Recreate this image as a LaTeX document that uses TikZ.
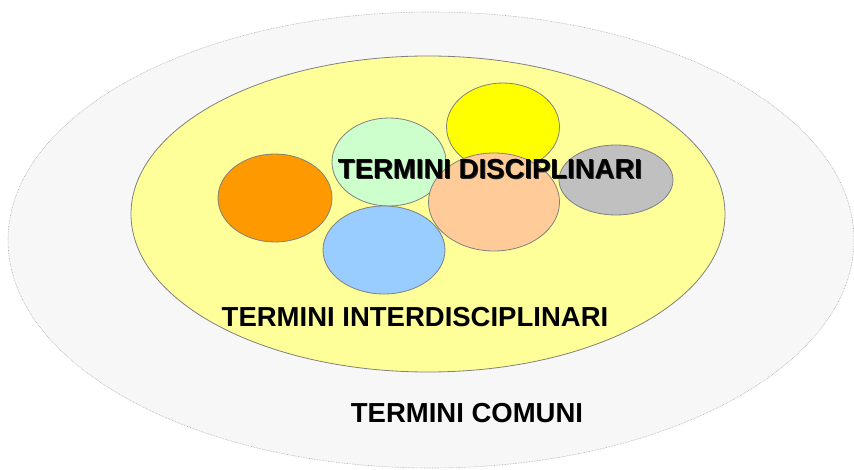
\documentclass[tikz,border=0pt]{standalone}
\usepackage{fontspec}
\setmainfont{Liberation Sans}
\usetikzlibrary{shapes.geometric}
\definecolor{outerfill}{HTML}{F7F7F7}
\definecolor{innerfill}{HTML}{FFFF99}
\definecolor{orangefill}{HTML}{FF9900}
\definecolor{greenfill}{HTML}{CCFFCC}
\definecolor{yellowfill}{HTML}{FFFF00}
\definecolor{greyfill}{HTML}{C0C0C0}
\definecolor{peachfill}{HTML}{FFCC99}
\definecolor{bluefill}{HTML}{99CCFF}
\begin{document}
\begin{tikzpicture}
	  [
	    x                       = 1pt,
	    y                       = -1pt,
	    blob/.style             = {
			ellipse,
			draw=gray,
			line width=0.8pt,
			inner sep=0pt
		},
		label/.style			= {
			font=\fontsize{27.5}{30}\selectfont\bfseries,
			inner sep=0pt
		}
		]
		\useasboundingbox (0,0) rectangle (854,470);
		% outer and inner sets
		\node[blob, fill=outerfill, draw=gray!70, line width=0.6pt, densely dotted,
			minimum width=846pt, minimum height=456pt] (comuni) at (431,240) {};
		\node[blob, fill=innerfill, minimum width=594pt, minimum height=316pt] (inter) at (428,214) {};
		% disciplines
		\node[blob, fill=orangefill, minimum width=114pt, minimum height=88pt] (d1) at (275,198) {};
		\node[blob, fill=greenfill, minimum width=114pt, minimum height=88pt] (d2) at (389,162) {};
		\node[blob, fill=yellowfill, minimum width=113pt, minimum height=88pt] (d3) at (503,127) {};
		\node[blob, fill=peachfill, minimum width=131pt, minimum height=98pt] (d4) at (494,202) {};
		\node[blob, fill=greyfill, minimum width=114pt, minimum height=70pt] (d5) at (616,180) {};
		\node[blob, fill=bluefill, minimum width=122pt, minimum height=88pt] (d6) at (384,250) {};
		% labels
		\node[label, text=black!85] (discshadow) at (491,170) {TERMINI DISCIPLINARI};
		\node[label] (disc) at (490,169) {TERMINI DISCIPLINARI};
		\node[label] (interlabel) at (415,317) {TERMINI INTERDISCIPLINARI};
		\node[label] (comunilabel) at (467,413.5) {TERMINI COMUNI};
	\end{tikzpicture}
\end{document}
